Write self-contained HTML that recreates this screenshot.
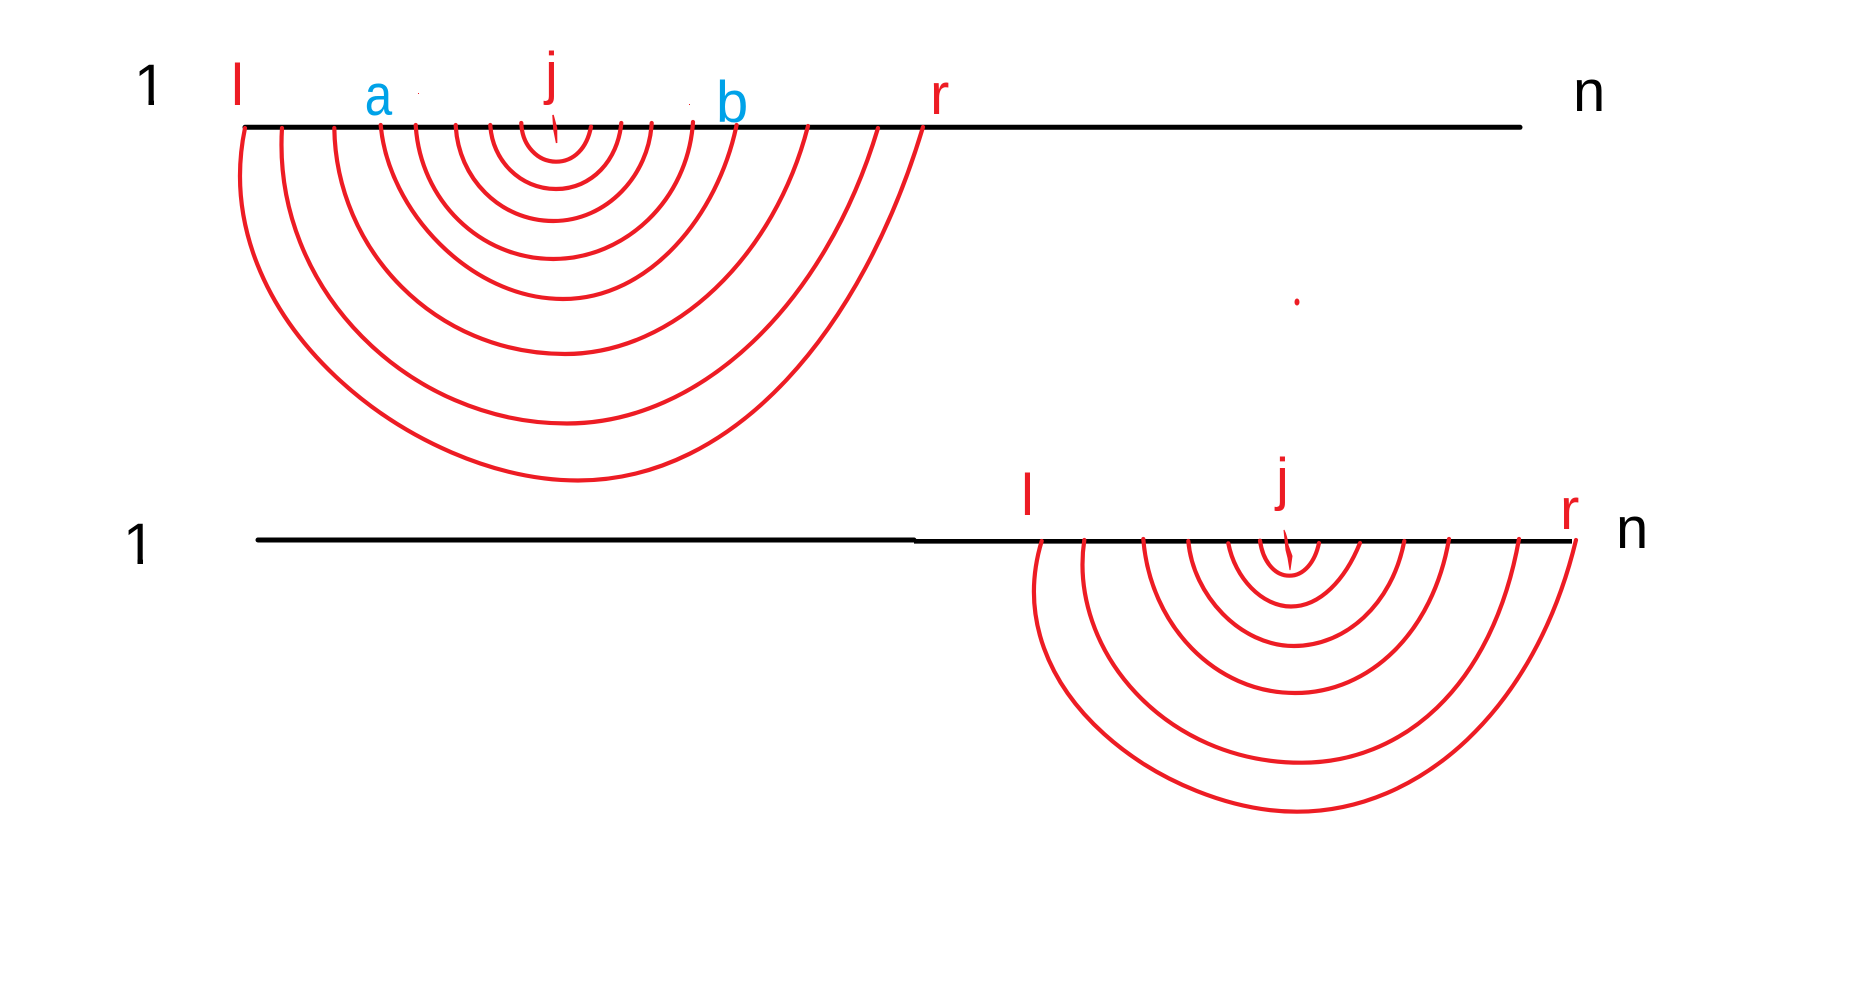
<!DOCTYPE html>
<html><head><meta charset="utf-8"><style>
html,body{margin:0;padding:0;background:#fff}
svg{display:block}
text{font-family:"Liberation Sans",sans-serif;font-size:58px}
.a{fill:none;stroke:#ed1c24;stroke-width:4.2;stroke-linecap:round}
.k{fill:#000}.r{fill:#ed1c24}.b{fill:#00a2e8}
</style></head><body>
<svg width="1853" height="1000" viewBox="0 0 1853 1000" xmlns="http://www.w3.org/2000/svg">
<rect width="1853" height="1000" fill="#fff"/>
<path d="M245,127.3H1520" stroke="#000" stroke-width="5" stroke-linecap="round" fill="none"/>
<path d="M258,540H914" stroke="#000" stroke-width="5" stroke-linecap="round" fill="none"/>
<path d="M914,541.3H1572" stroke="#000" stroke-width="4.6" fill="none"/>
<g class="a">
<path d="M521.3,123C522,146 538,161.7 556,161.7C574,161.7 587,148 591,126.7"/>
<path d="M490.3,125C492,160 520,189 556,189C592,189 618,160 621.3,123"/>
<path d="M455.7,125C458,178 500,221 553.3,221C607,221 649,175 651.7,123"/>
<path d="M415.7,125C420,200 480,259 553.3,259C625,259 688,200 693,122"/>
<path d="M380.7,125C388,210 470,299 563,299C650,299 718,215 736.6,125"/>
<path d="M334.3,128C336,250 435,354 565,354C675,354 775,255 808,126"/>
<path d="M282,128C272,290 410,423.5 567,423.5C700,423.5 825,305 878,128"/>
<path d="M245,128C205,320 415,480.5 578,480.5C735,480.5 862,330 923,127"/>
<path d="M1260,540.7C1263,562 1275,575.7 1289.3,575.7C1304,575.7 1315,562 1319,543"/>
<path d="M1228.3,543.3C1235,578 1262,606.5 1291,606.5C1320,606.5 1345,580 1360,543"/>
<path d="M1188.3,541C1193,595 1240,646 1294,646C1345,646 1392,605 1404.3,541"/>
<path d="M1143.3,539C1150,625 1215,693 1295,693C1370,693 1433,632 1449,539"/>
<path d="M1084.3,540C1068,650 1165,763 1301.7,762.7C1400,763 1492,690 1519,539"/>
<path d="M1041.7,541C995,695 1170,811.7 1297,811.7C1420,811.7 1535,710 1576,540"/>
</g>
<path d="M553,115L556.5,128L556.6,143L554,130Z" fill="#ed1c24" stroke="#ed1c24" stroke-width="1.5"/>
<path d="M1284,530Q1287,536 1288,545L1292,556L1290,570L1288,558L1286,550Z" fill="#ed1c24" stroke="#ed1c24" stroke-width="1"/>
<ellipse cx="1297" cy="302" rx="2.5" ry="3.5" fill="#ed1c24"/>
<rect x="418" y="93" width="1" height="1" fill="#ed1c24"/>
<rect x="689" y="104" width="1" height="1" fill="#ed1c24"/>
<text class="k" x="134" y="105">1</text>
<rect x="132" y="99" width="16.5" height="8" fill="#fff"/><rect x="154" y="99" width="15" height="8" fill="#fff"/>
<text class="r" x="231" y="105">l</text>
<text class="b" transform="translate(364.7,115) scale(.85,1)">a</text>
<text class="r" x="545" y="93">j</text>
<text class="b" x="716" y="122">b</text>
<text class="r" x="930" y="114">r</text>
<text class="k" x="1573" y="111">n</text>
<text class="k" x="123" y="564">1</text>
<rect x="121" y="558" width="16.5" height="8" fill="#fff"/><rect x="143" y="558" width="15" height="8" fill="#fff"/>
<text class="r" x="1021" y="515">l</text>
<text class="r" x="1276" y="499">j</text>
<text class="r" x="1560" y="529">r</text>
<text class="k" x="1616" y="548">n</text>
</svg>
</body></html>
